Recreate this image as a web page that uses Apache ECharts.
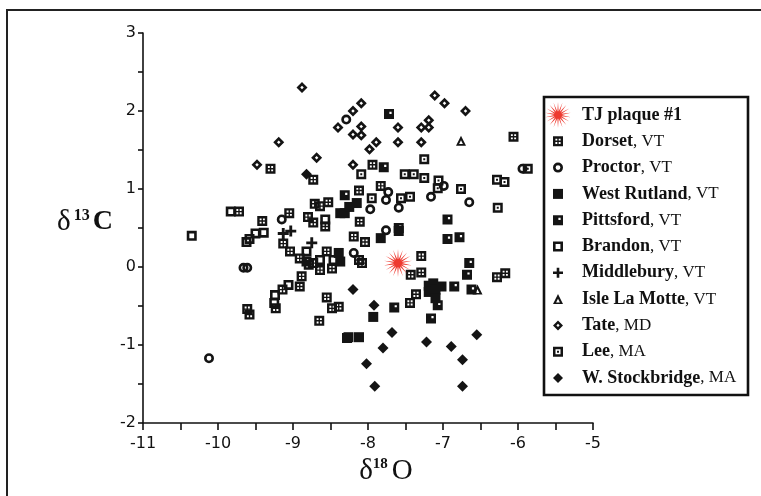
<!DOCTYPE html>
<html><head><meta charset="utf-8">
<script src="https://cdn.jsdelivr.net/npm/echarts@6/dist/echarts.min.js"></script>
<style>html,body{margin:0;padding:0;background:#fff}#c{width:761px;height:496px}</style>
</head><body><div id="c"></div>
<script>
// ---------- data ----------
const seriesNames = ['TJ plaque #1','Dorset, VT','Proctor, VT','West Rutland, VT','Pittsford, VT','Brandon, VT','Middlebury, VT','Isle La Motte, VT','Tate, MD','Lee, MA','W. Stockbridge, MA'];
const xTicks = [-11,-10,-9,-8,-7,-6,-5];
const yTicks = [-2,-1,0,1,2,3];

const tjPlaque = [[-7.6,0.05]];
const dorset = [[-9.30,1.26],[-8.73,1.12],[-8.71,0.81],[-8.64,0.78],[-8.53,0.83],[-9.72,0.71],[-9.41,0.59],[-9.05,0.69],
 [-8.80,0.64],[-8.73,0.57],[-8.57,0.52],[-9.13,0.30],[-9.04,0.20],[-8.91,0.11],[-8.73,0.05],[-8.64,-0.04],[-8.55,0.20],
 [-8.48,-0.02],[-8.79,0.03],[-8.885,-0.12],[-8.91,-0.25],[-9.14,-0.29],[-9.23,-0.53],[-8.55,-0.39],[-8.48,-0.53],
 [-8.39,-0.51],[-9.61,-0.54],[-9.58,-0.61],[-8.65,-0.69],[-8.28,-0.91],[-7.94,1.31],[-7.83,1.04],[-8.12,0.98],
 [-8.11,0.58],[-8.19,0.39],[-8.04,0.32],[-8.12,0.09],[-8.08,0.05],[-6.06,1.67],[-7.29,0.14],[-7.43,-0.10],[-7.29,-0.07],
 [-7.36,-0.35],[-7.44,-0.46],[-6.28,-0.13],[-6.17,-0.08]];
const proctor = [[-9.15,0.61],[-9.66,-0.01],[-9.61,-0.01],[-10.12,-1.17],[-8.29,1.89],[-7.73,0.96],[-7.76,0.86],[-7.97,0.74],
 [-8.19,0.18],[-7.76,0.47],[-6.99,1.04],[-7.16,0.90],[-7.59,0.76],[-6.65,0.83],[-5.94,1.26]];
const westRutland = [[-8.37,0.69],[-8.31,0.69],[-8.25,0.77],[-8.39,0.18],[-8.37,0.07],[-7.83,0.37],[-7.93,-0.64],[-8.26,-0.90],
 [-8.12,-0.90],[-7.19,-0.24],[-7.13,-0.21],[-7.19,-0.32],[-7.10,-0.29],[-7.02,-0.25],[-7.10,-0.40],[-8.15,0.82]];
const pittsford = [[-8.31,0.92],[-7.72,1.96],[-7.79,1.28],[-7.59,0.46],[-7.65,-0.52],[-6.94,0.61],[-7.59,0.50],[-6.94,0.36],
 [-6.78,0.38],[-6.65,0.05],[-6.68,-0.10],[-7.07,-0.49],[-6.85,-0.25],[-6.62,-0.29],[-7.16,-0.66],[-8.82,0.07]];
const brandon = [[-9.83,0.71],[-10.35,0.40],[-9.62,0.32],[-9.58,0.36],[-9.50,0.43],[-9.39,0.44],[-8.57,0.61],[-8.82,0.20],
 [-8.64,0.09],[-8.46,0.09],[-9.06,-0.23],[-9.24,-0.36],[-9.25,-0.46]];
const middlebury = [[-9.03,0.46],[-9.13,0.43],[-8.75,0.31]];
const isleLaMotte = [[-6.76,1.62],[-6.54,-0.29]];
const tate = [[-8.88,2.30],[-8.09,2.10],[-8.20,2.00],[-8.40,1.79],[-8.20,1.70],[-8.09,1.80],[-8.09,1.69],[-9.19,1.60],
 [-8.685,1.40],[-9.48,1.31],[-7.60,1.79],[-7.89,1.60],[-7.98,1.51],[-7.60,1.60],[-8.20,1.31],[-7.11,2.20],[-6.98,2.10],
 [-6.70,2.00],[-7.19,1.88],[-7.29,1.79],[-7.19,1.79],[-7.29,1.60]];
const lee = [[-8.09,1.19],[-7.95,0.88],[-7.25,1.38],[-7.51,1.19],[-7.39,1.19],[-7.25,1.14],[-7.06,1.11],[-7.07,1.01],
 [-6.76,1.00],[-7.56,0.88],[-7.44,0.90],[-6.28,1.12],[-6.18,1.09],[-5.87,1.26],[-6.27,0.76]];
const wStockbridge = [[-8.82,1.19],[-8.20,-0.29],[-7.92,-0.49],[-7.80,-1.04],[-8.02,-1.24],[-7.91,-1.53],[-7.68,-0.84],
 [-7.22,-0.96],[-6.89,-1.02],[-6.55,-0.87],[-6.74,-1.19],[-6.74,-1.53]];

// ---------- symbols ----------
function starPath(n, rIn){
  let d='';
  for(let i=0;i<2*n;i++){
    const a=Math.PI*i/n-Math.PI/2, r=i%2===0?10:rIn;
    d+=(i===0?'M':'L')+(10+r*Math.cos(a)).toFixed(2)+','+(10+r*Math.sin(a)).toFixed(2);
  }
  return d+'Z';
}
const P = {
  star: starPath(18,2.8),
  dorset: 'M0,0L10,0L10,10L0,10Z M2.4,2.4L2.4,4.3L4.3,4.3L4.3,2.4Z M5.7,2.4L5.7,4.3L7.6,4.3L7.6,2.4Z M2.4,5.7L2.4,7.6L4.3,7.6L4.3,5.7Z M5.7,5.7L5.7,7.6L7.6,7.6L7.6,5.7Z',
  ring: 'M0,5A5,5 0 1,1 10,5A5,5 0 1,1 0,5Z M2.6,5A2.4,2.4 0 1,0 7.4,5A2.4,2.4 0 1,0 2.6,5Z',
  solid: 'M0,0L10,0L10,10L0,10Z',
  pitts: 'M0,0L10,0L10,10L0,10Z M5.4,2.6L5.4,4.8L7.6,4.8L7.6,2.6Z',
  open: 'M0,0L10,0L10,10L0,10Z M2.6,2.6L2.6,7.4L7.4,7.4L7.4,2.6Z',
  plus: 'M3.7,0L6.3,0L6.3,3.7L10,3.7L10,6.3L6.3,6.3L6.3,10L3.7,10L3.7,6.3L0,6.3L0,3.7L3.7,3.7Z',
  tri: 'M5,0L10,10L0,10Z M5,4.6L3.1,8.4L6.9,8.4Z',
  diaRing: 'M5,0L10,5L5,10L0,5Z M5,3.4L3.4,5L5,6.6L6.6,5Z',
  lee: 'M0,0L10,0L10,10L0,10Z M2.5,2.5L2.5,7.5L7.5,7.5L7.5,2.5Z M4,4L6,4L6,6L4,6Z',
  dia: 'M5,0L10,5L5,10L0,5Z'
};
const symKeys = ['star','dorset','ring','solid','pitts','open','plus','tri','diaRing','lee','dia'];
const dataSets = [tjPlaque,dorset,proctor,westRutland,pittsford,brandon,middlebury,isleLaMotte,tate,lee,wStockbridge];
const sizes = [28,10,10,10,10,10,11,10,11,10,11];
const colors = ['#ee3a30','#141414','#141414','#141414','#141414','#141414','#141414','#141414','#141414','#141414','#141414'];
const padIcon = p => 'path://M-8,-8L-8,-8 M18,18L18,18 ' + p;

const series = seriesNames.map((n,i)=>({
  name:n, type:'scatter', data:dataSets[i],
  symbol:'path://'+P[symKeys[i]], symbolSize:sizes[i],
  itemStyle:{color:colors[i], opacity:1},
  z: i===0?5:2, silent:true
}));

const chart = echarts.init(document.getElementById('c'), null, {renderer:'canvas'});
chart.setOption({
  animation:false,
  backgroundColor:'#fff',
  grid:{left:143, right:168, top:33, bottom:73, containLabel:false},
  xAxis:{
    type:'value', min:xTicks[0], max:xTicks[xTicks.length-1], interval:1,
    axisLine:{onZero:false, lineStyle:{color:'#111', width:1.6}},
    axisTick:{show:true, length:7, lineStyle:{color:'#111', width:1.6}},
    minorTick:{show:true, splitNumber:2, length:7, lineStyle:{color:'#111', width:1.6}},
    splitLine:{show:false},
    axisLabel:{color:'#111', fontFamily:'DejaVu Sans', fontSize:16, margin:13},
    name:'{d|δ}{s|18}{o|O}', nameLocation:'middle', nameGap:30,
    nameTextStyle:{padding:[0,0,0,36], rich:{
      d:{fontFamily:'Liberation Serif', fontSize:29, color:'#111'},
      s:{fontFamily:'Liberation Serif', fontSize:15, fontWeight:'bold', color:'#111', verticalAlign:'top', padding:[0,4,0,0]},
      o:{fontFamily:'Liberation Serif', fontSize:29, color:'#111'}
    }}
  },
  yAxis:{
    type:'value', min:yTicks[0], max:yTicks[yTicks.length-1], interval:1,
    axisLine:{show:true, onZero:false, lineStyle:{color:'#111', width:1.6}},
    axisTick:{show:true, length:5, lineStyle:{color:'#111', width:1.6}},
    minorTick:{show:true, splitNumber:2, length:5, lineStyle:{color:'#111', width:1.6}},
    splitLine:{show:false},
    axisLabel:{color:'#111', fontFamily:'DejaVu Sans', fontSize:16, margin:7},
    name:'{d|δ}{s|13}{c|C}', nameLocation:'middle', nameGap:30, nameRotate:0,
    nameTextStyle:{padding:[0,0,12,0], rich:{
      d:{fontFamily:'Liberation Serif', fontSize:29, color:'#111', padding:[0,3,0,0]},
      s:{fontFamily:'Liberation Serif', fontSize:16, fontWeight:'bold', color:'#111', verticalAlign:'top', padding:[0,3,0,0]},
      c:{fontFamily:'Liberation Serif', fontSize:28, fontWeight:'bold', color:'#111'}
    }}
  },
  legend:{
    orient:'vertical', left:545, top:102, itemWidth:26, itemHeight:26, itemGap:0.3, padding:0,
    selectedMode:false,
    data: seriesNames.map((n,i)=>({name:n, icon: i===0 ? 'path://'+P.star : padIcon(P[symKeys[i]])})),
    formatter: n => { const k=n.indexOf(','); return k<0 ? '{b|'+n+'}' : '{b|'+n.slice(0,k)+'}{r|'+n.slice(k)+'}'; },
    textStyle:{padding:[0,0,0,6], rich:{
      b:{fontFamily:'Liberation Serif', fontWeight:'bold', fontSize:18, color:'#111'},
      r:{fontFamily:'Liberation Serif', fontSize:17, color:'#111'}
    }}
  },
  graphic:[
    {type:'rect', shape:{x:7, y:10, width:800, height:600}, style:{fill:'none', stroke:'#222', lineWidth:2}, silent:true, z:0},
    {type:'rect', shape:{x:544, y:97, width:204, height:298}, style:{fill:'none', stroke:'#111', lineWidth:2.6}, silent:true, z:0}
  ],
  series: series
});
</script></body></html>
